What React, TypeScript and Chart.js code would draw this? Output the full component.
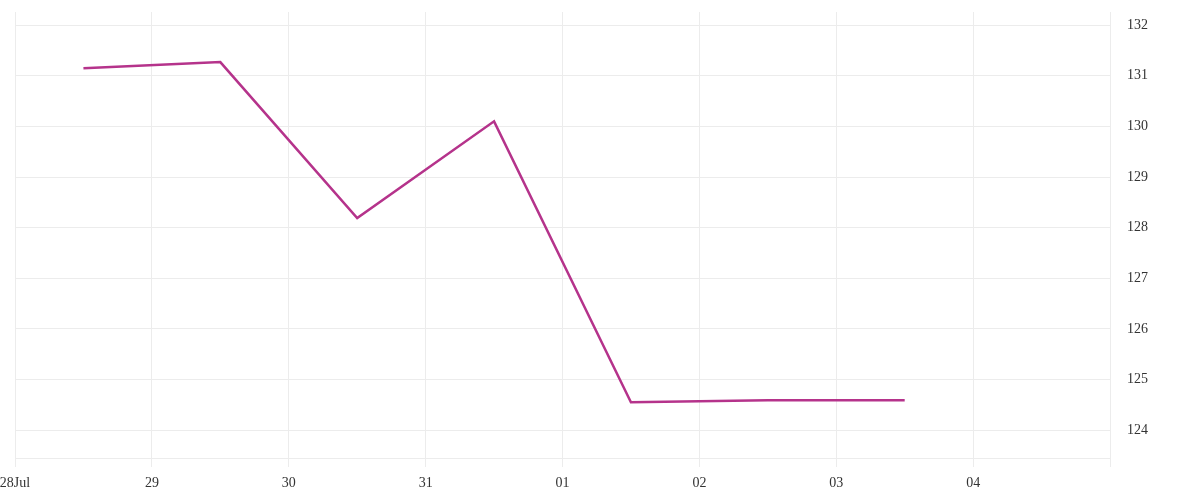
import React, { useEffect, useRef } from "react";
import { Chart, registerables } from "chart.js";

Chart.register(...registerables);

const startDate = "2024-07-28";
const pointDates = [
  "2024-07-28T12:00",
  "2024-07-29T12:00",
  "2024-07-30T12:00",
  "2024-07-31T12:00",
  "2024-08-01T12:00",
  "2024-08-02T12:00",
  "2024-08-03T12:00",
];
const seriesValues = [131.15, 131.27, 128.19, 130.1, 124.55, 124.59, 124.59];
const xTickLabels = ["28Jul", "29", "30", "31", "01", "02", "03", "04", ""];
const yTickValues = [124, 125, 126, 127, 128, 129, 130, 131, 132];
const yMin = 123.45;
const yMax = 132.26;

const DAY = 24 * 3600 * 1000;
const toDays = (d: string) => (Date.parse(d + "Z") - Date.parse(startDate + "T00:00Z")) / DAY;

export default function App() {
  const ref = useRef<HTMLCanvasElement | null>(null);
  useEffect(() => {
    document.body.style.margin = "0";
    const ctx = ref.current!.getContext("2d")!;
    const chart = new Chart(ctx, {
      type: "line",
      data: {
        datasets: [
          {
            data: pointDates.map((d, i) => ({ x: toDays(d), y: seriesValues[i] })),
            borderColor: "#b5338b",
            borderWidth: 2.5,
            pointRadius: 0,
            tension: 0,
            fill: false,
          },
        ],
      },
      options: {
        responsive: false,
        animation: false,
        layout: { padding: { left: 15, top: 12, right: 0, bottom: 0 } },
        plugins: { legend: { display: false }, tooltip: { enabled: false } },
        scales: {
          x: {
            type: "linear",
            min: 0,
            max: xTickLabels.length - 1,
            afterBuildTicks: (s: any) => {
              s.ticks = xTickLabels.map((_, i) => ({ value: i }));
            },
            afterFit: (s: any) => {
              s.height = 42;
              s.paddingLeft = 0;
              s.paddingRight = 0;
            },
            grid: { color: "#ececec", lineWidth: 1, tickLength: 9, drawTicks: true },
            border: { color: "#ececec" },
            ticks: {
              autoSkip: false,
              maxRotation: 0,
              padding: 8,
              color: "#333",
              font: { family: "'Liberation Serif'", size: 14 },
              callback: (_v: any, i: number) => xTickLabels[i],
            },
          },
          y: {
            position: "right",
            min: yMin,
            max: yMax,
            afterBuildTicks: (s: any) => {
              s.ticks = yTickValues.map((v) => ({ value: v }));
            },
            afterFit: (s: any) => {
              s.width = 90;
              s.paddingTop = 0;
              s.paddingBottom = 0;
            },
            grid: { color: "#ececec", lineWidth: 1, drawTicks: false },
            border: { color: "#ececec" },
            ticks: {
              padding: 17,
              color: "#333",
              font: { family: "'Liberation Serif'", size: 14 },
              callback: (v: any) => String(v),
            },
          },
        },
      },
    });
    return () => chart.destroy();
  }, []);
  return <canvas ref={ref} width={1200} height={500} style={{ display: "block" }} />;
}
